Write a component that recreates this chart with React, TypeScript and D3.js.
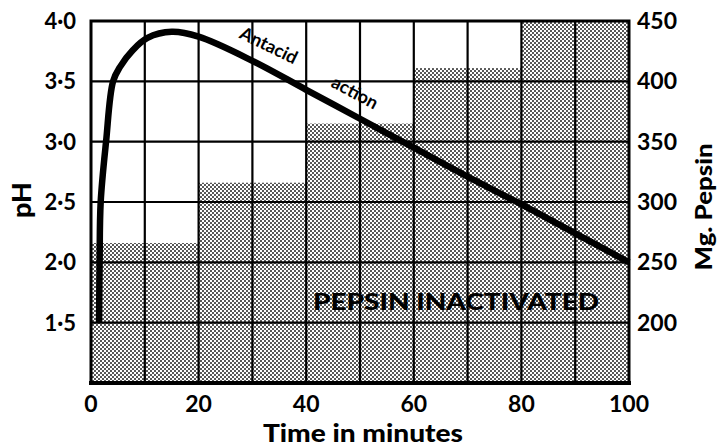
import React from "react";
import * as d3 from "d3";

const timeTicks = [0, 20, 40, 60, 80, 100];
const gridTimes = [10, 20, 30, 40, 50, 60, 70, 80, 90];
const phTicks = [1.5, 2.0, 2.5, 3.0, 3.5, 4.0];
const pepsinTicks = [200, 250, 300, 350, 400, 450];
const stepStart = [0, 20, 40, 60, 80];
const stepEnd = [20, 40, 60, 80, 100];
const stepPepsin = [266, 316, 365, 411, 450];
const curveTime = [1.5, 1.6, 1.8, 2.8, 4.1, 5.4, 7.8, 10.5, 15, 20, 30, 40, 50, 60, 70, 80, 90, 100];
const curvePH = [1.5, 2.0, 2.5, 3.0, 3.5, 3.62, 3.76, 3.86, 3.91, 3.87, 3.67, 3.43, 3.19, 2.95, 2.71, 2.48, 2.24, 2.0];

const W = 721;
const H = 448;
const FONT = "Lato, 'Open Sans', 'DejaVu Sans', sans-serif";

export default function App() {
  const x = d3.scaleLinear().domain([0, 100]).range([91, 629]);
  const y = d3.scaleLinear().domain([1, 4]).range([383, 21]);
  const yp = d3.scaleLinear().domain([150, 450]).range([383, 21]);

  const line = d3
    .line<number>()
    .x((_, i) => x(curveTime[i]))
    .y((d) => y(d))
    .curve(d3.curveCatmullRom.alpha(0.5));

  const fmt = (v: number) => v.toFixed(1).replace(".", "·");

  return (
    <svg
      width={W}
      height={H}
      style={{ position: "absolute", left: 0, top: 0, background: "#fff" }}
      fontFamily={FONT}
    >
      <defs>
        <pattern id="dots" width={4} height={4} patternUnits="userSpaceOnUse">
          <rect width={4} height={4} fill="#fff" />
          <circle cx={1} cy={1} r={0.95} fill="#111" />
          <circle cx={3} cy={3} r={0.95} fill="#111" />
        </pattern>
      </defs>
      <rect x={0} y={0} width={W} height={H} fill="#fff" />
      {stepStart.map((s, i) => (
        <rect
          key={"s" + i}
          x={x(s)}
          y={yp(stepPepsin[i])}
          width={x(stepEnd[i]) - x(s)}
          height={yp(150) - yp(stepPepsin[i])}
          fill="url(#dots)"
        />
      ))}
      {gridTimes.map((t) => (
        <line key={"gx" + t} x1={x(t)} x2={x(t)} y1={y(4)} y2={y(1)} stroke="#000" strokeWidth={2.2} />
      ))}
      {phTicks.slice(0, 5).map((p) => (
        <line key={"gy" + p} x1={x(0)} x2={x(100)} y1={y(p)} y2={y(p)} stroke="#000" strokeWidth={2.2} />
      ))}
      <rect
        x={x(0)}
        y={y(4)}
        width={x(100) - x(0)}
        height={y(1) - y(4)}
        fill="none"
        stroke="#000"
        strokeWidth={3}
      />
      <line x1={x(0) - 2} x2={x(100) + 2} y1={y(1)} y2={y(1)} stroke="#000" strokeWidth={4} />
      <path d={line(curvePH) || ""} fill="none" stroke="#000" strokeWidth={6.5} strokeLinecap="butt" />

      <text fontWeight={700} fontSize={18} transform="translate(266,51) rotate(26)" textAnchor="middle">
        Antacid
      </text>
      <text fontWeight={700} fontSize={18} transform="translate(352,98) rotate(28)" textAnchor="middle">
        action
      </text>

      <text
        x={456}
        y={310}
        fontWeight={900}
        fontSize={22}
        textAnchor="middle"
        textLength={286}
        lengthAdjust="spacingAndGlyphs"
        fill="#000"
      >
        PEPSIN INACTIVATED
      </text>

      {phTicks.map((p) => (
        <text key={"lp" + p} x={76} y={y(p) + 8} fontSize={22} fontWeight={700} textAnchor="end">
          {fmt(p)}
        </text>
      ))}
      {pepsinTicks.map((p) => (
        <text key={"rp" + p} x={637} y={yp(p) + 8} fontSize={23} fontWeight={700} textAnchor="start">
          {p}
        </text>
      ))}
      {timeTicks.map((t) => (
        <text key={"xt" + t} x={x(t)} y={412} fontSize={23} fontWeight={700} textAnchor="middle">
          {t}
        </text>
      ))}
      <text
        x={363}
        y={442}
        fontSize={24}
        fontWeight={900}
        textAnchor="middle"
        textLength={200}
        lengthAdjust="spacingAndGlyphs"
      >
        Time in minutes
      </text>
      <text transform="translate(31,200) rotate(-90)" fontSize={27} fontWeight={900} textAnchor="middle">
        pH
      </text>
      <text
        transform="translate(712,207) rotate(-90)"
        fontSize={23}
        fontWeight={900}
        textAnchor="middle"
        textLength={127}
        lengthAdjust="spacingAndGlyphs"
      >
        Mg. Pepsin
      </text>
    </svg>
  );
}
